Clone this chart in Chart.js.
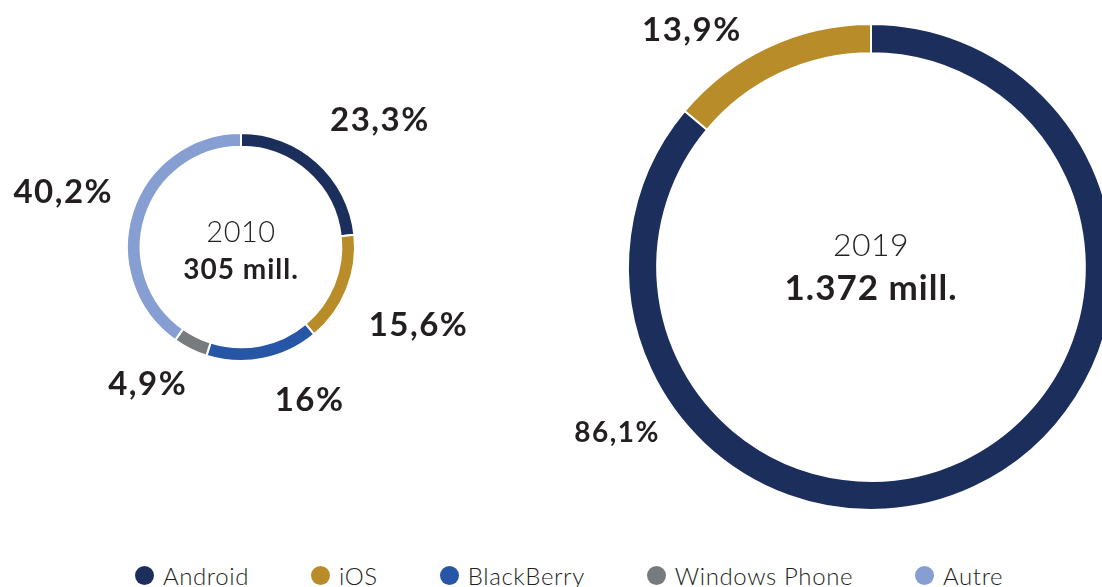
<!DOCTYPE html>
<html>
<head>
<meta charset="utf-8">
<script src="https://cdn.jsdelivr.net/npm/chart.js@4/dist/chart.umd.min.js"></script>
<style>
  html, body { margin:0; padding:0; background:#fff; }
  body { width:1102px; height:587px; overflow:hidden; position:relative; font-family: Lato, "Open Sans", sans-serif; color:#231f20; }
  #c2010 { position:absolute; left:0; top:0; }
  #c2019 { position:absolute; left:540px; top:0; }
  #legend { position:absolute; left:135px; top:562px; display:flex; align-items:center; height:26px; }
  .item { display:flex; align-items:center; font-size:24px; font-weight:300; letter-spacing:0.6px; margin-right:62px; white-space:nowrap; }
  .dot { width:19px; height:19px; border-radius:50%; margin-right:9px; }
</style>
</head>
<body>
<canvas id="c2010" width="482" height="494"></canvas>
<canvas id="c2019" width="662" height="540"></canvas>
<div id="legend"></div>
<script>
// parts de marché des OS mobiles, 2010 vs 2019
const categories = ["Android", "iOS", "BlackBerry", "Windows Phone", "Autre"];
const colors = ["#1c2e5c", "#b98c2a", "#2756a6", "#787b7d", "#869ed2"];
const share2010 = [23.3, 15.6, 16, 4.9, 40.2];
const share2019 = [86.1, 13.9, 0, 0, 0];
const years = ["2010", "2019"];
const totals = ["305 mill.", "1.372 mill."];

function fmt(v){
  return String(v).replace(".", ",") + "%";
}

// draws year + total in the hole and the % labels around the ring
const ringText = {
  id: "ringText",
  afterDraw(chart, args, opts){
    const ctx = chart.ctx;
    const meta = chart.getDatasetMeta(0);
    const arc0 = meta.data[0];
    const cx = arc0.x, cy = arc0.y;
    ctx.save();
    ctx.fillStyle = "#231f20";
    ctx.textAlign = "center";
    ctx.textBaseline = "middle";
    ctx.letterSpacing = "0.5px";
    ctx.font = "300 " + opts.yearSize + "px Lato";
    ctx.fillText(opts.year, cx, cy + opts.yearDy);
    ctx.letterSpacing = "1px";
    ctx.font = "bold " + opts.totalSize + "px Lato";
    ctx.fillText(opts.total, cx, cy + opts.totalDy);

    const vals = chart.data.datasets[0].data;
    ctx.letterSpacing = "1.5px";
    vals.forEach((v, i)=>{
      if(!v) return;
      const a = opts.angles[i] * Math.PI / 180;
      const r = opts.dist[i];
      ctx.font = "bold " + (opts.pctSize[i] || opts.pctSize[0]) + "px Lato";
      ctx.fillText(fmt(v), cx + r * Math.sin(a), cy - r * Math.cos(a));
    });
    ctx.restore();
  }
};

function makeRing(id, data, padding, textOpts){
  return new Chart(document.getElementById(id), {
    type: "doughnut",
    data: {
      labels: categories,
      datasets: [{ data, backgroundColor: colors, borderColor: "#fff", borderWidth: 2 }]
    },
    options: {
      responsive: false,
      animation: false,
      cutout: "88%",
      layout: { padding },
      plugins: {
        legend: { display: false },
        tooltip: { enabled: false },
        ringText: textOpts
      }
    },
    plugins: [ringText]
  });
}

makeRing("c2010", share2010, { left:126, right:126, top:132, bottom:132 }, {
  year: years[0], total: totals[0],
  yearSize: 29, yearDy: -14, totalSize: 28, totalDy: 23,
  angles: [47.6, 113.8, 155.9, 214.2, 287.1],
  dist: [188, 194, 168, 166, 186],
  pctSize: [33]
});

makeRing("c2019", share2019, { left:87, right:87, top:23, bottom:29 }, {
  year: years[1], total: totals[1],
  yearSize: 32, yearDy: -21, totalSize: 35, totalDy: 22,
  angles: [236.9, 322.9, 0, 0, 0],
  dist: [303, 297, 0, 0, 0],
  pctSize: [28, 33]
});

// legend
const legendEl = document.getElementById("legend");
categories.forEach((c, i)=>{
  const it = document.createElement("div");
  it.className = "item";
  it.innerHTML = `<span class="dot" style="background:${colors[i]}"></span>${c}`;
  legendEl.appendChild(it);
});
</script>
</body>
</html>
